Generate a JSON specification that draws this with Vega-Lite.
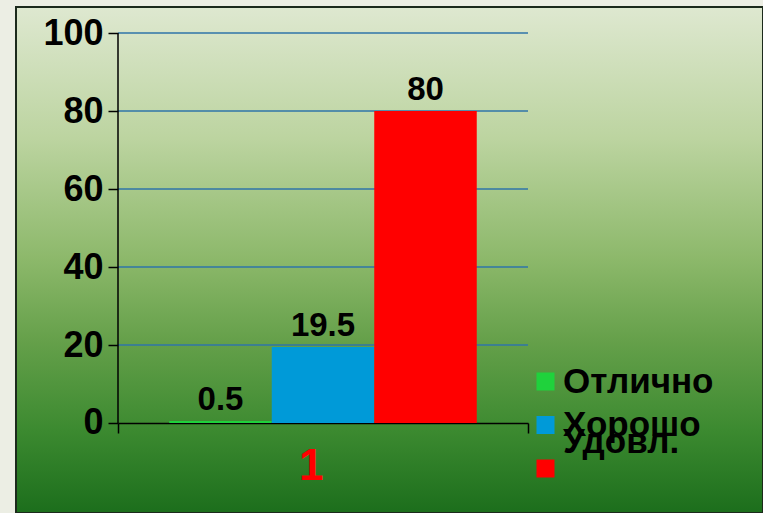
{
  "$schema": "https://vega.github.io/schema/vega-lite/v6.json",
  "width": 747,
  "height": 506,
  "autosize": {"type": "none"},
  "padding": {"left": 16, "top": 7, "right": 0, "bottom": 0},
  "background": "#eceee4",
  "config": {
    "font": "Liberation Sans",
    "view": {
      "stroke": "#1c2a1c",
      "strokeWidth": 2,
      "fill": {
        "gradient": "linear", "x1": 0, "y1": 0, "x2": 0, "y2": 1,
        "stops": [
          {"offset": 0, "color": "#dee8d0"},
          {"offset": 0.26, "color": "#bcd4a0"},
          {"offset": 0.5, "color": "#8cb86a"},
          {"offset": 0.66, "color": "#65a04a"},
          {"offset": 0.836, "color": "#3c8a30"},
          {"offset": 1, "color": "#1c6e1c"}
        ]
      }
    }
  },
  "datasets": {
    "bars": [
      {"group": "1", "series": "Отлично", "value": 0.5},
      {"group": "1", "series": "Хорошо", "value": 19.5},
      {"group": "1", "series": "Удовл.", "value": 80}
    ],
    "grid": [{"v": 20}, {"v": 40}, {"v": 60}, {"v": 80}, {"v": 100}]
  },
  "layer": [
    {
      "data": {"name": "grid"},
      "mark": {"type": "rule", "color": "#2f74a8", "strokeWidth": 1.5},
      "encoding": {
        "x": {"datum": "1", "bandPosition": 0, "type": "nominal"},
        "x2": {"datum": "1", "bandPosition": 1},
        "y": {"field": "v", "type": "quantitative"}
      }
    },
    {
      "data": {"name": "bars"},
      "mark": {"type": "bar"},
      "encoding": {
        "x": {
          "field": "group", "type": "nominal",
          "scale": {"range": [102, 512], "paddingInner": 0, "paddingOuter": 0},
          "axis": {
            "orient": "bottom", "offset": -90, "title": null,
            "tickBand": "extent", "tickSize": 10, "tickColor": "#000", "tickWidth": 1.5,
            "domainColor": "#000", "domainWidth": 1.5,
            "labelColor": "#ff0000", "labelFontSize": 44, "labelFontWeight": "bold",
            "labelPadding": 33, "labelAngle": 0
          }
        },
        "xOffset": {
          "field": "series", "type": "nominal",
          "sort": ["Отлично", "Хорошо", "Удовл."],
          "scale": {"paddingInner": 0, "paddingOuter": 0.5}
        },
        "y": {
          "field": "value", "type": "quantitative",
          "scale": {"domain": [-23.077, 106.667], "nice": false, "zero": false},
          "axis": {
            "orient": "left", "offset": -102, "title": null,
            "values": [0, 20, 40, 60, 80, 100],
            "grid": false, "domain": false,
            "tickSize": 10, "tickColor": "#000", "tickWidth": 1.5,
            "labelColor": "#000", "labelFontSize": 36, "labelFontWeight": "bold",
            "labelPadding": 5
          }
        },
        "color": {
          "field": "series", "type": "nominal",
          "sort": ["Отлично", "Хорошо", "Удовл."],
          "scale": {"domain": ["Отлично", "Хорошо", "Удовл."], "range": ["#1fd23c", "#009ad8", "#ff0000"]},
          "legend": {
            "title": null, "orient": "none", "legendX": 512, "legendY": 357,
            "padding": 0,
            "symbolType": "M0,-5.5M-1,-1L1,-1L1,1L-1,1Z", "symbolSize": 324, "symbolStrokeWidth": 0, "symbolOpacity": 1,
            "labelFontSize": 35, "labelFontWeight": "bold", "labelColor": "#000",
            "labelOffset": 0, "rowPadding": -24.5, "labelLimit": 300,
            "encode": {
              "labels": {"update": {"dy": {"signal": "datum.value === 'Удовл.' ? -27 : 0"}}}
            }
          }
        }
      }
    },
    {
      "data": {"name": "bars"},
      "mark": {"type": "text", "baseline": "bottom", "dy": -4, "fontSize": 33, "fontWeight": "bold", "color": "#000"},
      "encoding": {
        "x": {"field": "group", "type": "nominal"},
        "xOffset": {"field": "series", "type": "nominal", "sort": ["Отлично", "Хорошо", "Удовл."]},
        "y": {"field": "value", "type": "quantitative"},
        "text": {"field": "value", "type": "quantitative"}
      }
    },
    {
      "data": {"values": [{"a": 0, "b": 100}]},
      "mark": {"type": "rule", "color": "#000", "strokeWidth": 1.5},
      "encoding": {
        "x": {"datum": "1", "bandPosition": 0, "type": "nominal"},
        "y": {"field": "a", "type": "quantitative"},
        "y2": {"field": "b"}
      }
    }
  ]
}
